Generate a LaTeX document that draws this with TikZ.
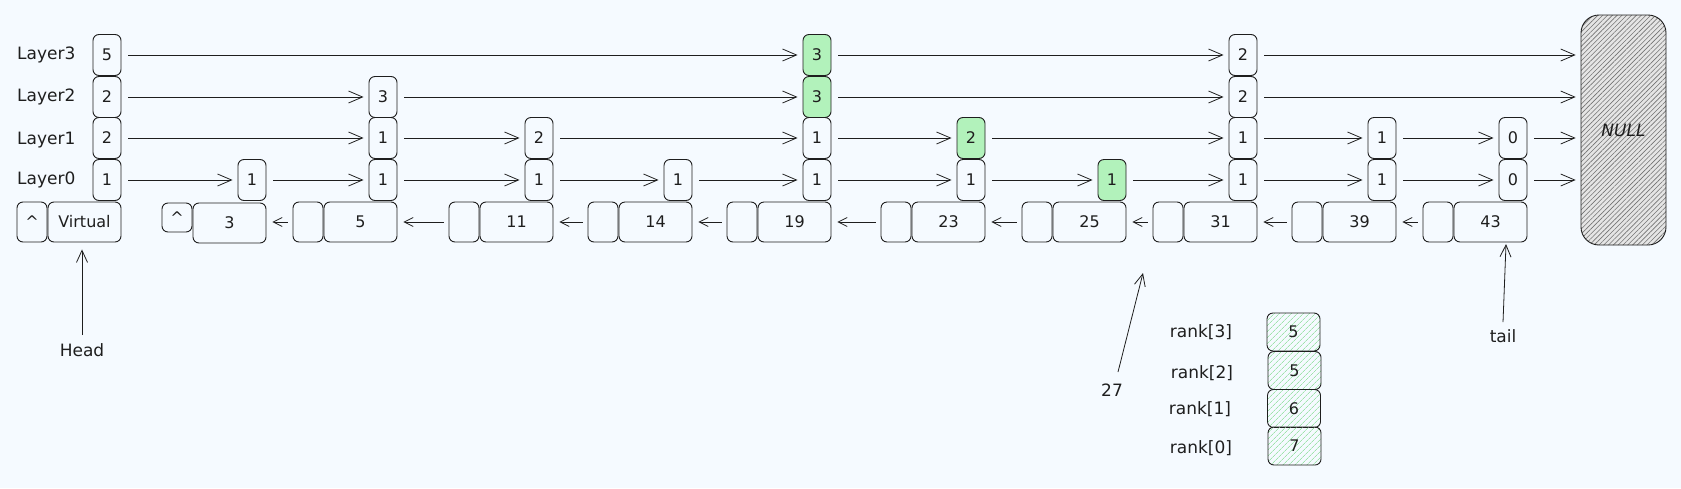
\documentclass[tikz,border=0pt]{standalone}
\usepackage{fontspec}
\setmainfont{DejaVu Sans}
\usetikzlibrary{arrows.meta,patterns.meta}
\definecolor{bg}{HTML}{F5FAFF}
\definecolor{ink}{HTML}{1E1E1E}
\definecolor{grn}{HTML}{B2F2BB}
\definecolor{hgrn}{HTML}{9FE3AC}
\begin{document}
\begin{tikzpicture}[x=1pt,y=-1pt,
 box/.style={draw=ink,line width=0.9pt,rounded corners=6pt,inner sep=0pt,font=\fontsize{16}{18}\selectfont,text=ink},
 tw/.style={box,minimum width=28pt,minimum height=41pt},
 bk/.style={box,minimum width=30pt,minimum height=40pt},
 vl/.style={box,minimum width=73pt,minimum height=40pt},
 hl/.style={fill=grn},
 lbl/.style={font=\fontsize{17}{20}\selectfont,text=ink,inner sep=0pt},
 fwd/.style={draw=ink,line width=0.8pt,-{Straight Barb[length=14pt,width=12pt]},shorten <=7pt,shorten >=5pt},
 bwd/.style={draw=ink,line width=0.7pt,-{Straight Barb[length=9pt,width=9pt]},shorten <=5pt,shorten >=6pt},
 ptr/.style={draw=ink,line width=0.8pt,-{Straight Barb[length=12pt,width=11pt]}},
 rk/.style={box,minimum width=53pt,minimum height=38pt,pattern={Lines[angle=45,distance=4pt,line width=0.8pt]},pattern color=hgrn},
]
\path[fill=bg] (0,0) rectangle (1681,488);

% layer labels
\node[lbl,anchor=west] (l3) at (17,55) {Layer3};
\node[lbl,anchor=west] (l2) at (17,97) {Layer2};
\node[lbl,anchor=west] (l1) at (17,140) {Layer1};
\node[lbl,anchor=west] (l0) at (17,180) {Layer0};

% virtual head
\node[tw] (v3) at (107,55) {5};
\node[tw] (v2) at (107,97) {2};
\node[tw] (v1) at (107,138) {2};
\node[tw] (v0) at (107,180) {1};
\node[bk] (vb) at (32,222) {\textasciicircum};
\node[vl] (vv) at (84.5,222) {Virtual};

% node 3
\node[tw] (a0) at (252,180) {1};
\node[box,minimum width=30pt,minimum height=29pt] (ab) at (177,217.5) {\textasciicircum};
\node[vl] (av) at (229.5,223) {3};

% node 5
\node[tw] (b2) at (383,97) {3};
\node[tw] (b1) at (383,138) {1};
\node[tw] (b0) at (383,180) {1};
\node[bk] (bb) at (308,222) {};
\node[vl] (bv) at (360.5,222) {5};

% node 11
\node[tw] (c1) at (539,138) {2};
\node[tw] (c0) at (539,180) {1};
\node[bk] (cb) at (464,222) {};
\node[vl] (cv) at (516.5,222) {11};

% node 14
\node[tw] (d0) at (678,180) {1};
\node[bk] (db) at (603,222) {};
\node[vl] (dv) at (655.5,222) {14};

% node 19
\node[tw,hl] (e3) at (817,55) {3};
\node[tw,hl] (e2) at (817,97) {3};
\node[tw] (e1) at (817,138) {1};
\node[tw] (e0) at (817,180) {1};
\node[bk] (eb) at (742,222) {};
\node[vl] (ev) at (794.5,222) {19};

% node 23
\node[tw,hl] (f1) at (971,138) {2};
\node[tw] (f0) at (971,180) {1};
\node[bk] (fb) at (896,222) {};
\node[vl] (fv) at (948.5,222) {23};

% node 25
\node[tw,hl] (g0) at (1112,180) {1};
\node[bk] (gb) at (1037,222) {};
\node[vl] (gv) at (1089.5,222) {25};

% node 31
\node[tw] (h3) at (1243,55) {2};
\node[tw] (h2) at (1243,97) {2};
\node[tw] (h1) at (1243,138) {1};
\node[tw] (h0) at (1243,180) {1};
\node[bk] (hb) at (1168,222) {};
\node[vl] (hv) at (1220.5,222) {31};

% node 39
\node[tw] (i1) at (1382,138) {1};
\node[tw] (i0) at (1382,180) {1};
\node[bk] (ib) at (1307,222) {};
\node[vl] (iv) at (1359.5,222) {39};

% node 43
\node[tw] (j1) at (1513,138) {0};
\node[tw] (j0) at (1513,180) {0};
\node[bk] (jb) at (1438,222) {};
\node[vl] (jv) at (1490.5,222) {43};

% NULL
\node[draw=ink,line width=0.9pt,rounded corners=18pt,minimum width=85pt,minimum height=230pt,
  preaction={fill=black!10},pattern={Lines[angle=45,distance=3.4pt,line width=0.6pt]},pattern color=black!55,
  font=\fontsize{17}{20}\selectfont\itshape,text=ink] (null) at (1623.5,130) {NULL};

% forward pointers
\draw[fwd] (v3) -- (e3);
\draw[fwd] (e3) -- (h3);
\draw[fwd] (h3) -- (h3 -| null.west);

\draw[fwd] (v2) -- (b2);
\draw[fwd] (b2) -- (e2);
\draw[fwd] (e2) -- (h2);
\draw[fwd] (h2) -- (h2 -| null.west);

\draw[fwd] (v1) -- (b1);
\draw[fwd] (b1) -- (c1);
\draw[fwd] (c1) -- (e1);
\draw[fwd] (e1) -- (f1);
\draw[fwd] (f1) -- (h1);
\draw[fwd] (h1) -- (i1);
\draw[fwd] (i1) -- (j1);
\draw[fwd] (j1) -- (j1 -| null.west);

\draw[fwd] (v0) -- (a0);
\draw[fwd] (a0) -- (b0);
\draw[fwd] (b0) -- (c0);
\draw[fwd] (c0) -- (d0);
\draw[fwd] (d0) -- (e0);
\draw[fwd] (e0) -- (f0);
\draw[fwd] (f0) -- (g0);
\draw[fwd] (g0) -- (h0);
\draw[fwd] (h0) -- (i0);
\draw[fwd] (i0) -- (j0);
\draw[fwd] (j0) -- (j0 -| null.west);

% backward pointers
\draw[bwd] (bb.west) -- (av.east |- bb.west);
\draw[bwd] (cb) -- (bv);
\draw[bwd] (db) -- (cv);
\draw[bwd] (eb) -- (dv);
\draw[bwd] (fb) -- (ev);
\draw[bwd] (gb) -- (fv);
\draw[bwd] (hb) -- (gv);
\draw[bwd] (ib) -- (hv);
\draw[bwd] (jb) -- (iv);

% head / tail / 27
\node[lbl] (head) at (82,350) {Head};
\draw[ptr,shorten >=7pt] ([yshift=8pt]head.north) -- (head.north |- vv.south);
\node[lbl] (tail) at (1503,336) {tail};
\coordinate (tailtip) at (1506,244);
\draw[ptr] ([yshift=7pt]tail.north) -- (tailtip);
\node[lbl] (n27) at (1112,390) {27};
\coordinate (tip27) at (1143,273);
\coordinate (base27) at (1118,372);
\draw[ptr] (base27) -- (tip27);

% rank array
\node[rk] (r3) at (1293.5,332) {5};
\node[rk] (r2) at (1294.5,370.5) {5};
\node[rk] (r1) at (1294,408.5) {6};
\node[rk] (r0) at (1294.5,446) {7};
\node[lbl] (rl3) at (1201,332) {rank[3]};
\node[lbl] (rl2) at (1202,373) {rank[2]};
\node[lbl] (rl1) at (1200,409) {rank[1]};
\node[lbl] (rl0) at (1201,448) {rank[0]};
\end{tikzpicture}
\end{document}
